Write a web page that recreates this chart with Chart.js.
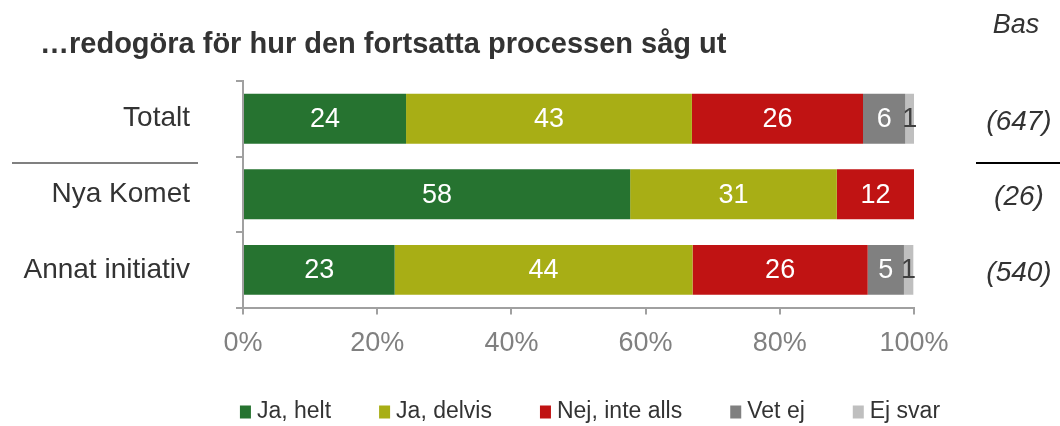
<!DOCTYPE html>
<html>
<head>
<meta charset="utf-8">
<script src="https://cdn.jsdelivr.net/npm/chart.js@4"></script>
<style>
  html, body { margin: 0; padding: 0; background: #fff; }
  #wrap { width: 1060px; height: 426px; position: relative; }
</style>
</head>
<body>
<div id="wrap"><canvas id="myChart"></canvas></div>
<script>
const title = '\u2026redogöra för hur den fortsatta processen såg ut';
const groups = ['Totalt', 'Nya Komet', 'Annat initiativ'];
const bases = ['(647)', '(26)', '(540)'];
const answers = ['Ja, helt', 'Ja, delvis', 'Nej, inte alls', 'Vet ej', 'Ej svar'];
const colors = ['#267330', '#a8ae15', '#c01313', '#808080', '#bfbfbf'];
const labelColors = ['#fff', '#fff', '#fff', '#fff', '#404040'];

// per answer, values for Totalt / Nya Komet / Annat initiativ (percent)
const jaHelt = [24.3, 57.7, 22.6];
const jaDelvis = [42.6, 30.8, 44.4];
const nejInteAlls = [25.5, 11.5, 26.1];
const vetEj = [6.3, 0, 5.4];
const ejSvar = [1.3, 0, 1.4];
const series = [jaHelt, jaDelvis, nejInteAlls, vetEj, ejSvar];

const xTicks = [0, 20, 40, 60, 80, 100];

const FONT = '"Liberation Sans", Arial, sans-serif';

// title, bas column, separators, numbers in the bars and the legend
const extras = {
    id: 'extras',
    afterDatasetsDraw(chart) {
        const ctx = chart.ctx;
        ctx.save();
        ctx.textBaseline = 'middle';
        ctx.textAlign = 'center';
        ctx.font = '27px ' + FONT;
        chart.data.datasets.forEach((ds, i) => {
            const meta = chart.getDatasetMeta(i);
            meta.data.forEach((bar, j) => {
                const v = ds.data[j];
                if (!v) return;
                ctx.fillStyle = labelColors[i];
                ctx.fillText(Math.round(v), (bar.x + bar.base) / 2, bar.y + 1);
            });
        });
        ctx.restore();
    },
    afterDraw(chart) {
        const ctx = chart.ctx;
        const y = chart.scales.y;
        ctx.save();
        ctx.fillStyle = '#333';
        ctx.textBaseline = 'middle';
        ctx.font = 'bold 29px ' + FONT;
        ctx.textAlign = 'left';
        ctx.fillText(title, 40, 45);

        ctx.font = 'italic 27px ' + FONT;
        ctx.textAlign = 'center';
        ctx.fillText('Bas', 1016, 25);
        ctx.font = 'italic 28px ' + FONT;
        bases.forEach((b, j) => {
            ctx.fillText(b, 1019, y.getPixelForValue(j) + 3);
        });

        ctx.lineWidth = 2;
        ctx.strokeStyle = '#808080';
        ctx.beginPath();
        ctx.moveTo(12, 163);
        ctx.lineTo(198, 163);
        ctx.stroke();
        ctx.strokeStyle = '#000';
        ctx.beginPath();
        ctx.moveTo(976, 163);
        ctx.lineTo(1060, 163);
        ctx.stroke();

        // legend
        ctx.font = '23px ' + FONT;
        ctx.textAlign = 'left';
        const gap = 48;
        const items = chart.data.datasets.map(ds => ({
            text: ds.label, color: ds.backgroundColor, w: 17 + ctx.measureText(ds.label).width
        }));
        const total = items.reduce((s, it) => s + it.w, 0) + gap * (items.length - 1);
        let x = 590 - total / 2;
        const ly = 412;
        items.forEach(it => {
            ctx.fillStyle = it.color;
            ctx.fillRect(x, ly - 6.5, 11, 13);
            ctx.fillStyle = '#333';
            ctx.fillText(it.text, x + 17, ly);
            x += it.w + gap;
        });
        ctx.restore();
    }
};

const ctx = document.getElementById('myChart');

new Chart(ctx, {
    type: 'bar',
    data: {
        labels: groups,
        datasets: answers.map((a, i) => ({
            label: a,
            data: series[i],
            backgroundColor: colors[i],
            borderWidth: 0,
            barPercentage: 0.66,
            categoryPercentage: 1
        }))
    },
    options: {
        indexAxis: 'y',
        responsive: true,
        maintainAspectRatio: false,
        animation: false,
        layout: { padding: { top: 81, left: 4, right: 146, bottom: 53 } },
        plugins: {
            tooltip: { enabled: false },
            legend: { display: false }
        },
        scales: {
            x: {
                stacked: true,
                min: 0,
                max: 100,
                afterBuildTicks(axis) { axis.ticks = xTicks.map(v => ({ value: v })); },
                border: { color: '#a0a0a0', width: 2 },
                grid: { drawOnChartArea: false, drawTicks: true, tickLength: 7, color: '#a0a0a0', lineWidth: 2 },
                ticks: {
                    color: '#808080',
                    padding: 13,
                    maxRotation: 0,
                    font: { family: FONT, size: 27 },
                    callback: v => v + '%'
                }
            },
            y: {
                stacked: true,
                afterFit(axis) { axis.width = 239; },
                border: { color: '#a0a0a0', width: 2 },
                grid: { drawOnChartArea: false, drawTicks: true, tickLength: 7, color: '#a0a0a0', lineWidth: 2 },
                ticks: {
                    color: '#333',
                    padding: 46,
                    font: { family: FONT, size: 28 }
                }
            }
        }
    },
    plugins: [extras]
});
</script>
</body>
</html>
